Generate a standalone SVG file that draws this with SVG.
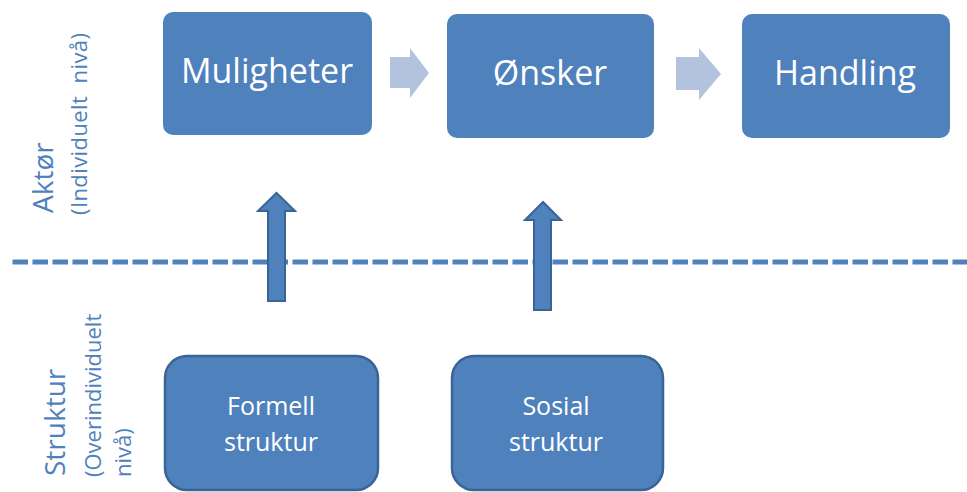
<svg xmlns="http://www.w3.org/2000/svg" width="967" height="492" viewBox="0 0 967 492">
<style>
.top{fill:#4f81bd;}
.bot{fill:#4f81bd;stroke:#3b6496;stroke-width:2.5;}
.t{font-family:"Open Sans","Noto Sans",sans-serif;fill:#ffffff;text-anchor:middle;}
.big{font-size:34px;}
.small{font-size:25px;}
.lab{font-family:"Open Sans","Noto Sans",sans-serif;fill:#4f81bd;}
.harrow{fill:#b3c3de;}
.varrow{fill:#4f81bd;stroke:#3b6496;stroke-width:2;stroke-linejoin:miter;}
.dash{stroke:#4f81bd;stroke-width:5;stroke-dasharray:15.5 4.5;fill:none;}
</style>
<rect width="967" height="492" fill="#ffffff"/>
<g id="labels">
<text class="lab" font-size="28" transform="translate(53,213) rotate(-90)">Aktør</text>
<text class="lab" font-size="22" transform="translate(87,215) rotate(-90)" textLength="182" xml:space="preserve">(Individuelt  nivå)</text>
<text class="lab" font-size="28" transform="translate(65,476) rotate(-90)">Struktur</text>
<text class="lab" font-size="22" transform="translate(101,477) rotate(-90)">(Overindividuelt</text>
<text class="lab" font-size="22" transform="translate(131,477) rotate(-90)">nivå)</text>
</g>
<g id="divider">
<line class="dash" x1="12.5" y1="262" x2="967" y2="262"/>
</g>
<g id="connectors">
<polygon class="harrow" points="390,57 410,57 410,48 429,73 410,98 410,88 390,88"/>
<polygon class="harrow" points="676,57 699,57 699,48 721,74 699,100 699,90 676,90"/>
<polygon class="varrow" points="268,301 285,301 285,211 295,211 276.5,193 258,211 268,211"/>
<polygon class="varrow" points="534,310 551,310 551,220 561,220 543,202 525,220 534,220"/>
</g>
<g id="muligheter">
<rect class="top" x="163" y="12" width="209" height="123" rx="10"/>
<text class="t big" x="267" y="83">Muligheter</text>
</g>
<g id="onsker">
<rect class="top" x="447" y="14" width="207" height="124" rx="10"/>
<text class="t big" x="550" y="85">Ønsker</text>
</g>
<g id="handling">
<rect class="top" x="742" y="14" width="208" height="124" rx="10"/>
<text class="t big" x="845" y="85">Handling</text>
</g>
<g id="formell">
<rect class="bot" x="165" y="356" width="213" height="134" rx="22"/>
<text class="t small" x="271" y="415">Formell</text>
<text class="t small" x="271" y="451">struktur</text>
</g>
<g id="sosial">
<rect class="bot" x="452" y="356" width="211" height="134" rx="22"/>
<text class="t small" x="556" y="415">Sosial</text>
<text class="t small" x="556" y="451">struktur</text>
</g>
</svg>
